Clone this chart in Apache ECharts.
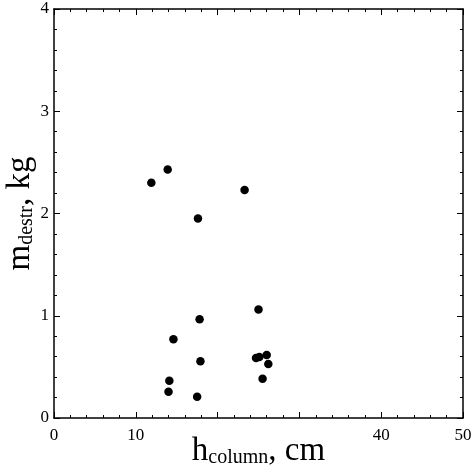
<!DOCTYPE html>
<html><head><meta charset="utf-8">
<script src="https://cdn.jsdelivr.net/npm/echarts@6/dist/echarts.min.js"></script>
<style>html,body{margin:0;padding:0;background:#fff}#c{width:472px;height:470px}</style>
</head><body><div id="c"></div>
<script>
const hColumn = [11.9, 13.9, 23.3, 17.6, 25.0, 17.8, 14.6, 17.9, 24.7, 25.1, 26.0, 26.2, 25.5, 14.1, 14.0, 17.5];
const mDestr  = [2.30, 2.43, 2.23, 1.95, 1.06, 0.965, 0.77, 0.555, 0.587, 0.597, 0.616, 0.528, 0.384, 0.365, 0.257, 0.208];
const xTicks = [0, 10, 20, 30, 40, 50];
const xTickLabels = ['0', '10', '', '', '40', '50'];
const yTicks = [0, 1, 2, 3, 4];
const yTickLabels = ['0', '1', '2', '3', '4'];

const FONT = '"Liberation Serif", "Times New Roman", Times, serif';
const chart = echarts.init(document.getElementById('c'));
const tickStyle = {show: true, inside: true, length: 6, lineStyle: {color: '#000', width: 1}};
const minorStyle = {show: true, splitNumber: 5, length: 3, lineStyle: {color: '#000', width: 1}};
const lineStyle = {show: true, onZero: false, lineStyle: {color: '#000', width: 1.5}};
const richName = {
  a: {fontSize: 33, fontFamily: FONT, color: '#000', verticalAlign: 'bottom', lineHeight: 34},
  b: {fontSize: 20, fontFamily: FONT, color: '#000', verticalAlign: 'bottom', lineHeight: 11}
};
chart.setOption({
  animation: false,
  backgroundColor: '#fff',
  textStyle: {fontFamily: FONT},
  grid: {left: 54, right: 9, top: 9, bottom: 52, containLabel: false, outerBoundsMode: 'none'},
  xAxis: [{
    type: 'value', min: 0, max: 50, interval: 10, position: 'bottom',
    axisLine: lineStyle, axisTick: tickStyle, minorTick: minorStyle, splitLine: {show: false},
    axisLabel: {color: '#000', fontFamily: FONT, fontSize: 17, margin: 9,
      formatter: v => xTickLabels[xTicks.indexOf(v)] ?? ''},
    name: '{a|h}{b|column}{a|, cm}', nameLocation: 'middle', nameGap: 16, nameMoveOverlap: false,
    nameTextStyle: {color: '#000', fontFamily: FONT, rich: richName}
  }, {
    type: 'value', min: 0, max: 50, interval: 10, position: 'top',
    axisLine: lineStyle, axisTick: tickStyle, minorTick: minorStyle, splitLine: {show: false},
    axisLabel: {show: false}
  }],
  yAxis: [{
    type: 'value', min: 0, max: 4, interval: 1, position: 'left',
    axisLine: lineStyle, axisTick: tickStyle, minorTick: minorStyle, splitLine: {show: false},
    axisLabel: {color: '#000', fontFamily: FONT, fontSize: 17, margin: 5,
      formatter: v => yTickLabels[yTicks.indexOf(v)] ?? ''},
    name: '{a|m}{b|destr}{a|, kg}', nameLocation: 'middle', nameGap: 17, nameRotate: 90, nameMoveOverlap: false,
    nameTextStyle: {color: '#000', fontFamily: FONT, rich: richName}
  }, {
    type: 'value', min: 0, max: 4, interval: 1, position: 'right',
    axisLine: lineStyle, axisTick: tickStyle, minorTick: minorStyle, splitLine: {show: false},
    axisLabel: {show: false}
  }],
  series: [{
    type: 'scatter', xAxisIndex: 0, yAxisIndex: 0,
    data: hColumn.map((x, i) => [x, mDestr[i]]),
    symbol: 'circle', symbolSize: 8.5,
    itemStyle: {color: '#000', opacity: 1}
  }]
});
</script></body></html>
